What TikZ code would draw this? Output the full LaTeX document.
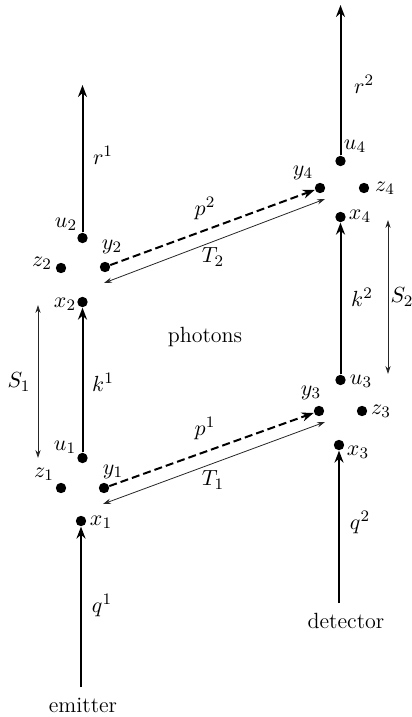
\documentclass[tikz,border=0pt]{standalone}
\usetikzlibrary{arrows.meta}
\begin{document}
\begin{tikzpicture}[x=0.5pt,y=-0.5pt,
  every node/.style={font=\fontsize{11}{13}\selectfont},
  dot/.style={circle,fill=black,inner sep=0pt,minimum size=5.2pt},
  lbl/.style={inner sep=0pt},
  thickarr/.style={line width=1pt,-{Stealth[length=6pt,width=4.5pt]}},
  dasharr/.style={line width=1pt,dashed,dash pattern=on 4pt off 2pt,-{Stealth[length=6pt,width=4.5pt]}},
  thinarr/.style={line width=0.4pt,black!85,{Stealth[length=4pt,width=2.6pt]}-{Stealth[length=4pt,width=2.6pt]}}]
\useasboundingbox (0,0) rectangle (412,717);
% dots left
\node[dot] (u2) at (82.5,238) {};
\node[dot] (y2) at (105,267) {};
\node[dot] (z2) at (61,268) {};
\node[dot] (x2) at (82.5,302) {};
\node[dot] (u1) at (82.5,458) {};
\node[dot] (y1) at (104,488) {};
\node[dot] (z1) at (61,488) {};
\node[dot] (x1) at (81,521) {};
% dots right
\node[dot] (u4) at (340.5,161) {};
\node[dot] (y4) at (320,188) {};
\node[dot] (z4) at (364,188) {};
\node[dot] (x4) at (340.5,217) {};
\node[dot] (u3) at (340.5,380) {};
\node[dot] (y3) at (319,411) {};
\node[dot] (z3) at (362,411) {};
\node[dot] (x3) at (339,445) {};
% coordinates
\coordinate (r1end) at (82.5,85);
\coordinate (r2end) at (340.5,5);
\coordinate (estart) at (81,687);
\coordinate (dstart) at (339,603);
\coordinate (s1a) at (38,305);
\coordinate (s1b) at (38,458);
\coordinate (s2a) at (388,220);
\coordinate (s2b) at (388,374);
\coordinate (t2a) at (104,283);
\coordinate (t2b) at (325,199);
\coordinate (t1a) at (103,504);
\coordinate (t1b) at (325,422);
% labels
\node[lbl] (lu2) at (66,224) {$u_2$};
\node[lbl] (ly2) at (112,247) {$y_2$};
\node[lbl] (lz2) at (42,263) {$z_2$};
\node[lbl] (lx2) at (65,304) {$x_2$};
\node[lbl] (lu1) at (65,447) {$u_1$};
\node[lbl] (ly1) at (113,472) {$y_1$};
\node[lbl] (lz1) at (44,474) {$z_1$};
\node[lbl] (lx1) at (101,522) {$x_1$};
\node[lbl] (lu4) at (355,146) {$u_4$};
\node[lbl] (ly4) at (303,173) {$y_4$};
\node[lbl] (lz4) at (385,188) {$z_4$};
\node[lbl] (lx4) at (360,216) {$x_4$};
\node[lbl] (lu3) at (361,381) {$u_3$};
\node[lbl] (ly3) at (311,393) {$y_3$};
\node[lbl] (lz3) at (381,411) {$z_3$};
\node[lbl] (lx3) at (358,452) {$x_3$};
\node[lbl] (lr1) at (103,155) {$r^1$};
\node[lbl] (lr2) at (364,84) {$r^2$};
\node[lbl] (lk1) at (103,382) {$k^1$};
\node[lbl] (lk2) at (362,297) {$k^2$};
\node[lbl] (lq1) at (102,605) {$q^1$};
\node[lbl] (lq2) at (360,522) {$q^2$};
\node[lbl] (lS1) at (19,382) {$S_1$};
\node[lbl] (lS2) at (402,297) {$S_2$};
\node[lbl] (lp2) at (205,208) {$p^2$};
\node[lbl] (lT2) at (213,257) {$T_2$};
\node[lbl] (lp1) at (205,428) {$p^1$};
\node[lbl] (lT1) at (213,480) {$T_1$};
\node[lbl] (photons) at (205,337) {photons};
\node[lbl] (emitter) at (83,705) {emitter};
\node[lbl] (detector) at (346,621) {detector};
% connectors
\draw[thickarr] (u2) -- (r1end);
\draw[thickarr] (u4) -- (r2end);
\draw[thickarr] (u1) -- (x2);
\draw[thickarr] (u3) -- (x4);
\draw[thickarr] (estart) -- (x1);
\draw[thickarr] (dstart) -- (x3);
\draw[dasharr] (y2) -- (y4);
\draw[dasharr] (y1) -- (y3);
\draw[thinarr] (t2a) -- (t2b);
\draw[thinarr] (t1a) -- (t1b);
\draw[thinarr] (s1a) -- (s1b);
\draw[thinarr] (s2a) -- (s2b);
\end{tikzpicture}
\end{document}
